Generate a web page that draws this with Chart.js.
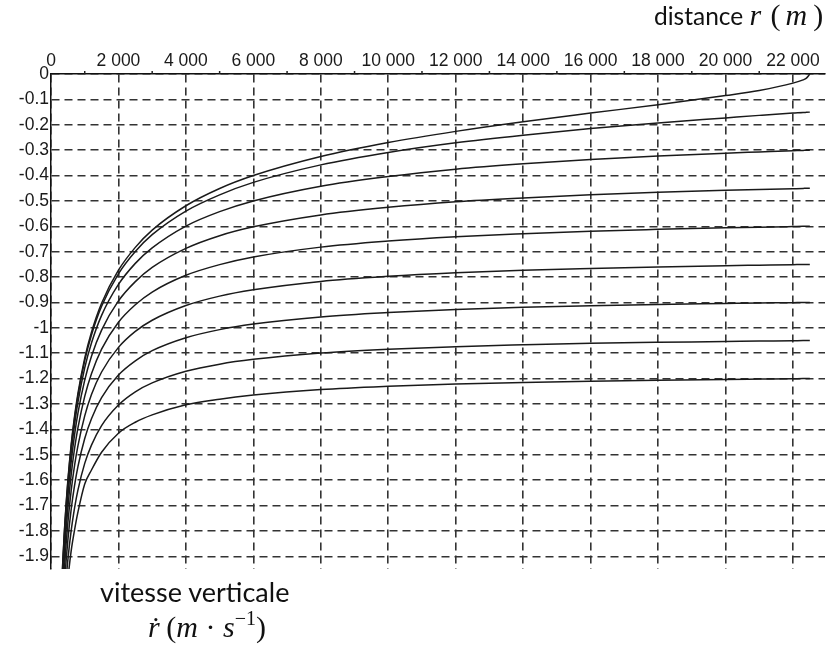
<!DOCTYPE html>
<html>
<head>
<meta charset="utf-8">
<script src="https://cdn.jsdelivr.net/npm/chart.js@4.4.1/dist/chart.umd.min.js"></script>
<style>
    html, body { margin: 0; padding: 0; background: #fff; }
    #wrap { position: relative; width: 831px; height: 651px; }
    #c { position: absolute; left: 0; top: 0; }
    .lbl { position: absolute; white-space: nowrap; color: #111; font-family: Lato, "Open Sans", sans-serif; line-height: 32px; }
    .m { font-family: "Liberation Serif", "DejaVu Serif", serif; font-style: italic; font-size: 30px; }
    .p { font-family: "Liberation Serif", "DejaVu Serif", serif; font-size: 30px; }
    .lbl sup { font-family: "Liberation Serif", serif; font-size: 20px; line-height: 0; vertical-align: 0.6em; }
    #xtitle .m2 { margin: 0 6px 0 5px; }
    #xtitle .open { margin-left: 3px; }
</style>
</head>
<body>
<div id="wrap">
    <canvas id="c" width="831" height="651"></canvas>
    <div class="lbl" id="xtitle" style="left:654px; top:-1px; font-size:24.5px;">distance <span class="m">r</span>&nbsp;<span class="p open">(</span><span class="m m2">m</span><span class="p">)</span></div>
    <div class="lbl" id="ytitle1" style="left:100px; top:576px; font-size:27px;">vitesse verticale</div>
    <div class="lbl" id="ytitle2" style="left:148px; top:611px; font-size:26px;"><span class="m">ṙ</span>&nbsp;<span class="p">(</span><span class="m">m</span><span class="p"> · </span><span class="m">s</span><sup>−1</sup><span class="p">)</span></div>
</div>
<script>
(function () {
    'use strict';

    // distance r (m), shared by every curve
    var distances = [300, 350, 400, 450, 500, 600, 700, 800, 1000, 1200, 1500, 2000, 2500, 3000, 4000, 5000,
        6000, 8000, 10000, 12000, 14000, 16000, 18000, 20000, 21000, 22000, 22300, 22400, 22500];

    // vertical speed (m/s), one curve per final speed
    var speedTo000 = [-2.076, -1.920, -1.794, -1.689, -1.601, -1.458, -1.347, -1.257, -1.119, -1.017, -0.903, -0.773, -0.683, -0.615, -0.519, -0.451,
        -0.400, -0.325, -0.270, -0.226, -0.188, -0.154, -0.121, -0.085, -0.065, -0.036, -0.023, -0.016, 0];
    var speedTo015 = [-2.081, -1.925, -1.800, -1.696, -1.608, -1.466, -1.355, -1.266, -1.129, -1.028, -0.915, -0.787, -0.699, -0.633, -0.540, -0.476,
        -0.427, -0.358, -0.309, -0.271, -0.241, -0.215, -0.193, -0.173, -0.163, -0.154, -0.152, -0.151, -0.150];
    var speedTo030 = [-2.097, -1.943, -1.819, -1.716, -1.628, -1.488, -1.380, -1.292, -1.158, -1.060, -0.951, -0.829, -0.746, -0.685, -0.599, -0.542,
        -0.500, -0.442, -0.404, -0.375, -0.354, -0.337, -0.323, -0.312, -0.307, -0.302, -0.301, -0.300, -0.300];
    var speedTo045 = [-2.124, -1.972, -1.849, -1.748, -1.663, -1.526, -1.420, -1.335, -1.206, -1.112, -1.009, -0.894, -0.818, -0.762, -0.687, -0.637,
        -0.602, -0.555, -0.525, -0.503, -0.488, -0.476, -0.466, -0.458, -0.455, -0.452, -0.451, -0.450, -0.450];
    var speedTo060 = [-2.161, -2.011, -1.891, -1.793, -1.709, -1.576, -1.474, -1.393, -1.270, -1.181, -1.084, -0.978, -0.909, -0.859, -0.793, -0.751,
        -0.721, -0.682, -0.658, -0.641, -0.629, -0.619, -0.612, -0.606, -0.604, -0.601, -0.600, -0.600, -0.600];
    var speedTo075 = [-2.207, -2.061, -1.944, -1.848, -1.768, -1.639, -1.541, -1.464, -1.347, -1.263, -1.174, -1.077, -1.014, -0.970, -0.912, -0.875,
        -0.850, -0.817, -0.797, -0.783, -0.773, -0.766, -0.760, -0.755, -0.753, -0.751, -0.750, -0.750, -0.750];
    var speedTo090 = [-2.262, -2.120, -2.007, -1.914, -1.836, -1.713, -1.620, -1.546, -1.436, -1.358, -1.275, -1.186, -1.130, -1.090, -1.039, -1.007,
        -0.985, -0.957, -0.940, -0.928, -0.919, -0.913, -0.908, -0.904, -0.902, -0.901, -0.900, -0.900, -0.900];
    var speedTo105 = [-2.326, -2.188, -2.078, -1.989, -1.914, -1.797, -1.708, -1.638, -1.534, -1.462, -1.385, -1.304, -1.252, -1.217, -1.171, -1.143,
        -1.124, -1.099, -1.084, -1.074, -1.067, -1.061, -1.057, -1.054, -1.052, -1.051, -1.050, -1.050, -1.050];
    var speedTo120 = [-2.390, -2.255, -2.150, -2.065, -1.992, -1.877, -1.795, -1.725, -1.615, -1.560, -1.490, -1.415, -1.372, -1.343, -1.303, -1.281,
        -1.265, -1.243, -1.230, -1.221, -1.215, -1.210, -1.206, -1.203, -1.202, -1.201, -1.200, -1.200, -1.200];

    var curves = [speedTo000, speedTo015, speedTo030, speedTo045, speedTo060, speedTo075, speedTo090, speedTo105, speedTo120];

    // axis ranges and tick positions
    var xMin = 0, xMax = 22950;
    var yMin = -1.95, yMax = 0;
    var xTicks = [0, 2000, 4000, 6000, 8000, 10000, 12000, 14000, 16000, 18000, 20000, 22000];
    var xMinorTicks = [1000, 3000, 5000, 7000, 9000, 11000, 13000, 15000, 17000, 19000, 21000];
    var yTicks = [0, -0.1, -0.2, -0.3, -0.4, -0.5, -0.6, -0.7, -0.8, -0.9, -1, -1.1, -1.2, -1.3, -1.4, -1.5, -1.6, -1.7, -1.8, -1.9];

    var tickFont = { family: '"Liberation Sans", Arial, sans-serif', size: 17.5 };

    var datasets = curves.map(function (speeds) {
        return {
            data: distances.map(function (r, i) {
                return { x: r, y: speeds[i] };
            }),
            showLine: true,
            borderColor: '#1a1a1a',
            borderWidth: 1.5,
            pointRadius: 0,
            cubicInterpolationMode: 'monotone',
            fill: false
        };
    });

    // little tick marks on the top axis between the labelled ones
    var minorTicks = {
        id: 'minorTicks',
        afterDraw: function (chart) {
            var c = chart.ctx;
            var xs = chart.scales.x;
            var top = chart.chartArea.top;
            c.save();
            c.strokeStyle = '#222';
            c.lineWidth = 1.5;
            xMinorTicks.forEach(function (v) {
                var px = xs.getPixelForValue(v);
                c.beginPath();
                c.moveTo(px, top - 3);
                c.lineTo(px, top);
                c.stroke();
            });
            c.restore();
        }
    };

    new Chart(document.getElementById('c'), {
        type: 'scatter',
        data: { datasets: datasets },
        plugins: [minorTicks],
        options: {
            responsive: false,
            animation: false,
            devicePixelRatio: 1,
            layout: { padding: { left: 0, top: 0, right: 6, bottom: 82 } },
            plugins: {
                legend: { display: false },
                tooltip: { enabled: false }
            },
            scales: {
                x: {
                    type: 'linear',
                    position: 'top',
                    min: xMin,
                    max: xMax,
                    afterFit: function (scale) { scale.height = 74; },
                    // stepSize is unreliable for large steps, so the ticks are set by hand
                    afterBuildTicks: function (scale) {
                        scale.ticks = xTicks.map(function (v) { return { value: v }; });
                    },
                    ticks: {
                        autoSkip: false,
                        maxRotation: 0,
                        padding: 2,
                        color: '#1a1a1a',
                        font: tickFont,
                        callback: function (value) {
                            // thousands separated by a space: 12 000
                            return value === 0 ? '0' : (value / 1000) + ' 000';
                        }
                    },
                    grid: { color: '#333', lineWidth: 1.6, drawTicks: false },
                    border: { display: true, color: '#111', width: 1.5, dash: [8, 5] }
                },
                y: {
                    type: 'linear',
                    min: yMin,
                    max: yMax,
                    afterFit: function (scale) { scale.width = 51; },
                    afterBuildTicks: function (scale) {
                        scale.ticks = yTicks.slice().reverse().map(function (v) { return { value: v }; });
                    },
                    ticks: {
                        autoSkip: false,
                        padding: 2,
                        color: '#1a1a1a',
                        font: tickFont,
                        callback: function (value) {
                            return String(Math.round(value * 10) / 10);
                        }
                    },
                    grid: { color: '#333', lineWidth: 1.6, drawTicks: false },
                    border: { display: true, color: '#111', width: 1.5, dash: [8, 5] }
                }
            }
        }
    });
})();
</script>
</body>
</html>
